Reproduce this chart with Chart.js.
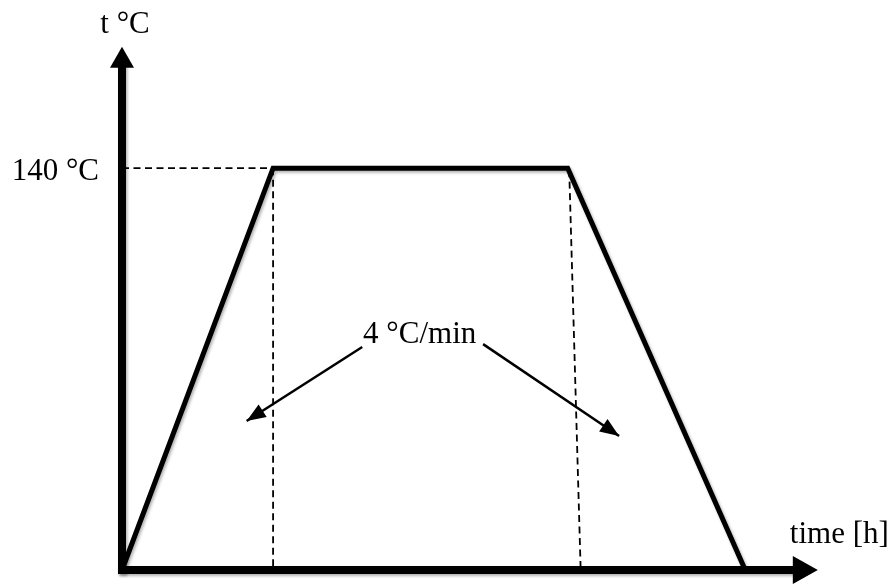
<!DOCTYPE html>
<html>
<head>
<meta charset="utf-8">
<title>Temperature profile</title>
<script src="https://cdn.jsdelivr.net/npm/chart.js@4.4.1/dist/chart.umd.min.js"></script>
<style>
    body { margin: 0; background: #ffffff; }
    #wrap { width: 893px; height: 585px; position: relative; }
</style>
</head>
<body>
<div id="wrap"><canvas id="profileChart"></canvas></div>
<script>
// Profiel: opwarmen, vasthouden op 140 °C, afkoelen (tijd in willekeurige eenheden)
const profileTime = [0, 2, 5.9, 8.25];
const profileTemp = [0, 140, 140, 0];

// Hulplijnen (gestreept)
const guideH = [{ x: 0, y: 140 }, { x: 2, y: 140 }];
const guideLeft = [{ x: 2, y: 140 }, { x: 2, y: 1.4 }];
const guideRight = [{ x: 5.92, y: 139.3 }, { x: 6.07, y: 1.4 }];

// Pijlen vanaf het label "4 °C/min"
const arrowLeft = [{ x: 3.18, y: 77.7 }, { x: 1.65, y: 51.9 }];
const arrowRight = [{ x: 4.78, y: 78.7 }, { x: 6.58, y: 46.7 }];

// Assen
const yAxisLine = [{ x: 0, y: 0 }, { x: 0, y: 175 }];
const xAxisLine = [{ x: 0, y: 0 }, { x: 8.88, y: 0 }];

// Teksten
const yAxisTitle = 't °C';
const xAxisTitle = 'time [h]';
const plateauLabel = '140 °C';
const rateLabel = '4 °C/min';

const FONT = '31px "Liberation Serif", "Times New Roman", serif';

// Pijlpunten tekenen aan het einde van een dataset
const arrowHeadPlugin = {
    id: 'arrowHeads',
    afterDatasetsDraw(chart) {
        const ctx = chart.ctx;
        chart.data.datasets.forEach((ds, i) => {
            if (!ds.arrowHead) return;
            const pts = chart.getDatasetMeta(i).data;
            const a = pts[pts.length - 2], b = pts[pts.length - 1];
            const dx = b.x - a.x, dy = b.y - a.y;
            const d = Math.hypot(dx, dy);
            const ux = dx / d, uy = dy / d;
            const len = ds.arrowHead.len, half = ds.arrowHead.width / 2;
            let baseX, baseY, tipX, tipY;
            if (ds.arrowHead.atBase) {
                baseX = b.x; baseY = b.y;
                tipX = b.x + ux * len; tipY = b.y + uy * len;
            } else {
                tipX = b.x; tipY = b.y;
                baseX = b.x - ux * len; baseY = b.y - uy * len;
            }
            ctx.save();
            ctx.fillStyle = '#000';
            ctx.beginPath();
            ctx.moveTo(tipX, tipY);
            ctx.lineTo(baseX - uy * half, baseY + ux * half);
            ctx.lineTo(baseX + uy * half, baseY - ux * half);
            ctx.closePath();
            ctx.fill();
            ctx.restore();
        });
    }
};

// Lichte schaduw onder de dikke lijnen
const shadowPlugin = {
    id: 'lineShadow',
    beforeDatasetDraw(chart, args) {
        if (!args.meta._dataset.shadow) return;
        const ctx = chart.ctx;
        ctx.save();
        ctx.shadowColor = 'rgba(0,0,0,0.3)';
        ctx.shadowBlur = 3;
        ctx.shadowOffsetX = 1.5;
        ctx.shadowOffsetY = 2;
    },
    afterDatasetDraw(chart, args) {
        if (!args.meta._dataset.shadow) return;
        chart.ctx.restore();
    }
};

// Labels, gepositioneerd via de schalen
const labelPlugin = {
    id: 'labels',
    afterDraw(chart) {
        const ctx = chart.ctx;
        const xs = chart.scales.x, ys = chart.scales.y;
        const x0 = xs.getPixelForValue(0), y0 = ys.getPixelForValue(0);
        ctx.save();
        ctx.font = FONT;
        ctx.fillStyle = '#000';
        ctx.textBaseline = 'alphabetic';

        ctx.textAlign = 'center';
        ctx.fillText(yAxisTitle, x0 + 3, ys.getPixelForValue(175) - 35);

        ctx.textAlign = 'right';
        ctx.fillText(plateauLabel, x0 - 23, ys.getPixelForValue(140) + 12);

        ctx.textAlign = 'left';
        ctx.fillText(xAxisTitle, xs.getPixelForValue(8.88) - 3, y0 - 27);

        ctx.textAlign = 'center';
        const midX = (xs.getPixelForValue(arrowLeft[0].x) + xs.getPixelForValue(arrowRight[0].x)) / 2;
        ctx.fillText(rateLabel, midX - 3, ys.getPixelForValue(arrowRight[0].y) - 1);
        ctx.restore();
    }
};

function lineSet(data, width, extra) {
    return Object.assign({
        data: data,
        borderColor: '#000',
        borderWidth: width,
        pointRadius: 0,
        fill: false,
        tension: 0,
        clip: false
    }, extra || {});
}

new Chart(document.getElementById('profileChart'), {
    type: 'line',
    data: {
        datasets: [
            lineSet(guideH, 1.8, { borderDash: [7, 4.5] }),
            lineSet(guideLeft, 1.8, { borderDash: [7, 4.5] }),
            lineSet(guideRight, 1.8, { borderDash: [7, 4.5] }),
            lineSet(profileTime.map((t, i) => ({ x: t, y: profileTemp[i] })), 5, { shadow: true, borderJoinStyle: 'miter' }),
            lineSet(arrowLeft, 2.5, { arrowHead: { len: 19, width: 15 } }),
            lineSet(arrowRight, 2.5, { arrowHead: { len: 19, width: 15 } }),
            lineSet(yAxisLine, 8, { shadow: true, borderCapStyle: 'square', arrowHead: { len: 21, width: 24, atBase: true } }),
            lineSet(xAxisLine, 8, { shadow: true, borderCapStyle: 'square', arrowHead: { len: 25, width: 28, atBase: true } })
        ]
    },
    options: {
        responsive: true,
        maintainAspectRatio: false,
        animation: false,
        layout: { padding: { left: 122, right: 76, top: 47, bottom: 15 } },
        plugins: { legend: { display: false }, tooltip: { enabled: false } },
        scales: {
            x: { type: 'linear', min: 0, max: 9.2, display: false },
            y: { type: 'linear', min: 0, max: 182.2, display: false }
        }
    },
    plugins: [shadowPlugin, arrowHeadPlugin, labelPlugin]
});
</script>
</body>
</html>
